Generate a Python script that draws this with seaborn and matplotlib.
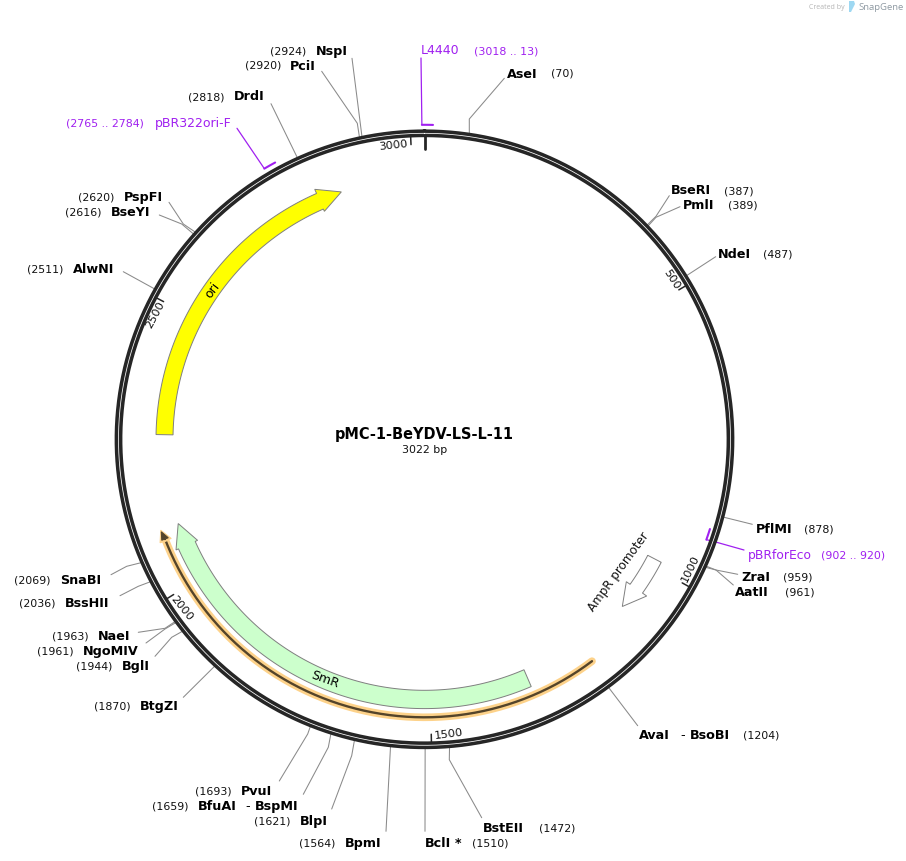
#Import Libraries
import numpy as np
import pandas as pd
import seaborn as sns
import matplotlib
matplotlib.use("Agg")
import matplotlib.pyplot as plt

#Plasmid Data
plasmid_name = "pMC-1-BeYDV-LS-L-11"
plasmid_size = 3022

site_names = ["AseI", "BseRI", "PmlI", "NdeI", "PflMI", "ZraI", "AatII", "AvaI", "BstEII", "BclI",
              "BpmI", "BlpI", "BfuAI", "PvuI", "BtgZI", "BglI", "NgoMIV", "NaeI", "BssHII", "SnaBI",
              "AlwNI", "BseYI", "PspFI", "DrdI", "PciI", "NspI"]
site_bp = [70, 387, 389, 487, 878, 959, 961, 1204, 1472, 1510,
           1564, 1621, 1659, 1693, 1870, 1944, 1961, 1963, 2036, 2069,
           2511, 2616, 2620, 2818, 2920, 2924]

primer_names = ["L4440", "pBR322ori-F", "pBRforEco"]
primer_start = [3018, 2765, 902]
primer_end = [3035, 2784, 920]
primer_ranges = ["(3018 .. 13)", "(2765 .. 2784)", "(902 .. 920)"]

feature_names = ["ori", "SmR", "AmpR promoter"]
feature_tail = [2275, 1315, 986]
feature_neck = [2823, 2065, 1051]
feature_tip = [2866, 2108, 1093]

primer_arc = [1200, 2104]
tick_bp = [500, 1000, 1500, 2000, 2500, 3000]

#Layout In Pixels
cx, cy = 424.5, 440.3
ring_r = 306
purple = "#a020f0"
gray = "#8a8a8a"

#site name: name x, name y, position x, elbow, leader end
site_layout = {
    "AseI": (507, 74, 551, (469.3, 120), (504.3, 79.3)),
    "BseRI": (671, 191, 724, (656, 217.3), (669.3, 196.7)),
    "PmlI": (683, 206, 728, (656, 218.3), (680, 207.7)),
    "NdeI": (718, 255, 763, None, (715.7, 257.7)),
    "PflMI": (756, 530, 804, None, (752.3, 525.3)),
    "ZraI": (741, 578, 783, (716, 571), (737.7, 575.3)),
    "AatII": (735, 593, 785, (716, 571), (733.3, 586)),
    "AvaI": (639, 736, 743, None, (637.7, 726.7)),
    "BstEII": (483, 829, 539, (449.3, 760.7), (481.7, 818.7)),
    "BclI": (425, 844, 472, None, (425, 832.3)),
    "BpmI": (345, 844, 299, None, (386, 832.3)),
    "BlpI": (300, 822, 254, (351.7, 756.7), (331.7, 810)),
    "BfuAI": (198, 807, 152, (328.3, 748.3), (303.3, 795.3)),
    "PvuI": (241, 791.5, 195, (307.7, 735), (279.3, 782)),
    "BtgZI": (140, 706.5, 94, None, (183.3, 698.3)),
    "BglI": (122, 666.5, 76, (171.7, 638.3), (155, 657.3)),
    "NgoMIV": (83, 652, 37, (165, 630), (146, 644)),
    "NaeI": (98, 637, 52, (165, 629.3), (138.3, 633.3)),
    "BssHII": (65, 604, 19, (138.3, 587.3), (120, 596.7)),
    "SnaBI": (60, 581, 14, (126.7, 567.3), (111, 575.7)),
    "AlwNI": (73, 270, 27, None, (123.3, 272.7)),
    "BseYI": (111, 212.5, 65, (181.7, 225), (159.3, 216)),
    "PspFI": (124, 197.5, 78, (183.3, 225), (169, 203.3)),
    "DrdI": (234, 97, 188, None, (271, 104.7)),
    "PciI": (290, 66, 245, (357.3, 124.3), (321.7, 72.3)),
    "NspI": (316, 51, 270, None, (352, 59.3)),
}
# tick label centre and rotation
tick_layout = {500: (671.7, 279.3, -57), 1000: (690, 568.3, 64), 1500: (448.3, 734, 7),
               2000: (181.7, 608.3, -51), 2500: (155, 315, 62), 3000: (393, 146, 6)}


def to_xy(bp, r):
    a = 2 * np.pi * np.asarray(bp, dtype=float) / plasmid_size
    return cx + r * np.sin(a), cy - r * np.cos(a)


def arc(b0, b1, r, n=200):
    return to_xy(np.linspace(b0, b1, n), r)


def draw_line(xs, ys, color, width):
    df = pd.DataFrame({"x": xs, "y": ys, "u": 0})
    sns.lineplot(data=df, x="x", y="y", units="u", estimator=None, sort=False,
                 color=color, linewidth=width, ax=ax, legend=False)


def draw_arrow(tail, neck, tip, r_in, r_out, r_fl_in, r_fl_out, r_tip, fill, edge):
    ox, oy = arc(tail, neck, r_out)
    ix, iy = arc(neck, tail, r_in)
    fx0, fy0 = to_xy(neck, r_fl_out)
    fx1, fy1 = to_xy(neck, r_fl_in)
    tx, ty = to_xy(tip, r_tip)
    xs = np.r_[ox, fx0, tx, fx1, ix]
    ys = np.r_[oy, fy0, ty, fy1, iy]
    ax.fill(xs, ys, facecolor=fill, edgecolor=edge, linewidth=0.7, zorder=3)


sns.set_theme(style="white", font="DejaVu Sans")
fig = plt.figure(figsize=(9.06, 8.62), dpi=100)
ax = fig.add_axes([0, 0, 1, 1])

#Site Leader Lines
for name, bp in zip(site_names, site_bp):
    name_x, name_y, pos_x, elbow, end = site_layout[name]
    rx, ry = to_xy(bp, ring_r + 3)
    pts = [(rx, ry)] + ([elbow] if elbow else []) + [end]
    draw_line([p[0] for p in pts], [p[1] for p in pts], gray, 0.75)
    ax.text(name_x, name_y, name, fontsize=9.2, fontweight="bold", color="black", va="center")
    ax.text(pos_x, name_y, "(%d)" % bp, fontsize=7.9, color="#111111", va="center")

#Second Enzyme Names And The Methylation Star
ax.text(245, 807, "-", fontsize=9.2, va="center", color="black")
ax.text(255, 807, "BspMI", fontsize=9.2, fontweight="bold", va="center", color="black")
ax.text(680, 736, "-", fontsize=9.2, va="center", color="black")
ax.text(690, 736, "BsoBI", fontsize=9.2, fontweight="bold", va="center", color="black")
ax.text(455, 844, "*", fontsize=9.2, fontweight="bold", va="center", color="black")

#Primers
primer_radius = [314.5, 314.5, 299.2]
primer_leader = [[(421, 59)], [(237, 129.3)], [(716.7, 543.3), (744, 551)]]
primer_anchor = [3018, 2765, 920]
for i, name in enumerate(primer_names):
    bx, by = arc(primer_start[i], primer_end[i], primer_radius[i], 20)
    draw_line(bx, by, purple, 1.5)
    ax_x, ax_y = to_xy(primer_anchor[i], primer_radius[i])
    pts = [(ax_x, ax_y)] + primer_leader[i]
    draw_line([p[0] for p in pts], [p[1] for p in pts], purple, 0.9)

ax.text(421, 51, primer_names[0], fontsize=9.0, color=purple, va="center")
ax.text(474, 52, primer_ranges[0], fontsize=7.9, color=purple, va="center")
ax.text(155, 124, primer_names[1], fontsize=9.0, color=purple, va="center")
ax.text(66, 124, primer_ranges[1], fontsize=7.9, color=purple, va="center")
ax.text(748, 556, primer_names[2], fontsize=8.9, color=purple, va="center")
ax.text(821, 556, primer_ranges[2], fontsize=7.9, color=purple, va="center")

#Backbone Ring
rx, ry = arc(0, plasmid_size, ring_r, 900)
draw_line(rx, ry, "#262626", 5.6)
draw_line(rx, ry, "white", 0.55)

#Ruler Ticks
for bp in tick_bp:
    tx, ty = to_xy([bp, bp], [ring_r - 3, ring_r - 11])
    draw_line(tx, ty, "#262626", 1.1)
    lx, ly, rot = tick_layout[bp]
    ax.text(lx, ly, str(bp), fontsize=8.2, color="#111111", rotation=rot,
            rotation_mode="anchor", ha="center", va="center")
tx, ty = to_xy([0, 0], [ring_r - 3, ring_r - 16])
draw_line(tx, ty, "#262626", 2.0)

#Features
draw_arrow(feature_tail[0], feature_neck[0], feature_tip[0], 251.5, 268.5, 249, 273, 261, "#ffff00", "#7f7f7f")
draw_arrow(feature_tail[1], feature_neck[1], feature_tip[1], 251, 269.3, 248.4, 272, 260.3, "#ccffcc", "#7f7f7f")
draw_arrow(feature_tail[2], feature_neck[2], feature_tip[2], 251.6, 266.8, 247, 271.9, 259, "white", "#7f7f7f")

ax.text(212.5, 290, feature_names[0], fontsize=9, rotation=53, rotation_mode="anchor",
        ha="center", va="center", color="black", zorder=4)
ax.text(325, 680, feature_names[1], fontsize=9, rotation=-20, rotation_mode="anchor",
        ha="center", va="center", color="black", zorder=4)
ax.text(619, 571.7, feature_names[2], fontsize=8.6, rotation=54, rotation_mode="anchor",
        ha="center", va="center", color="#111111", zorder=4)

#Highlighted Primer Arc
gx, gy = arc(primer_arc[0], primer_arc[1] - 14, 278, 300)
draw_line(gx, gy, "#fdd28a", 5.5)
draw_arrow(primer_arc[1] - 18, primer_arc[1] - 17, primer_arc[1] + 3, 276, 280, 272, 284, 279, "#fdd28a", "#fdd28a")
draw_line(gx, gy, "#54442a", 1.7)
draw_arrow(primer_arc[1] - 15, primer_arc[1] - 14, primer_arc[1], 277.5, 278.5, 274.5, 281.5, 279, "#54442a", "#54442a")

#Name In The Middle
ax.text(cx, 435, plasmid_name, fontsize=10.45, fontweight="bold", color="black", ha="center", va="center")
ax.text(cx, 450, "%d bp" % plasmid_size, fontsize=7.9, color="#111111", ha="center", va="center")

#Watermark
ax.text(809, 7.5, "Created by", fontsize=5, color="#b5b5b5", va="center", family="Open Sans")
ax.fill([849, 854, 855, 853, 851, 849], [2, 2, 5, 9, 13, 13], color="#9ed8f2", linewidth=0)
ax.text(858, 7.5, "SnapGene", fontsize=6.8, color="#8f9aa3", va="center", family="Open Sans")

ax.set_xlim(0, 906)
ax.set_ylim(862, 0)
ax.axis("off")
fig.savefig("out.png", dpi=100, facecolor="white")
